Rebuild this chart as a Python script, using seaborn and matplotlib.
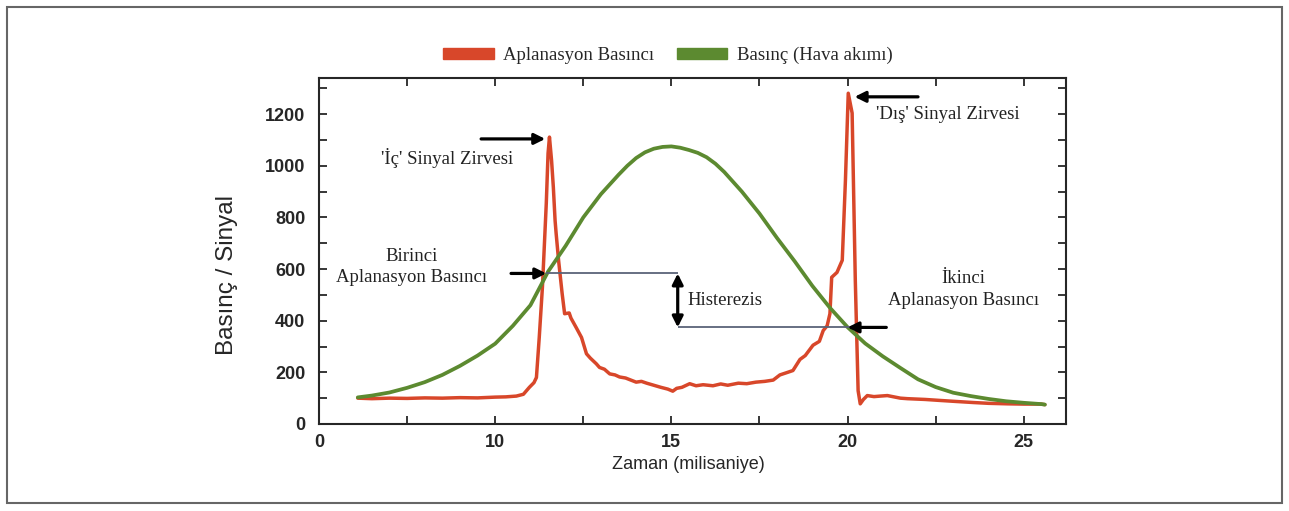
import matplotlib
matplotlib.use('Agg')
import matplotlib.pyplot as plt
from matplotlib.patches import Patch, Rectangle
from matplotlib.ticker import FixedLocator, MultipleLocator
import seaborn as sns
import pandas as pd

# applanation signal (red)
red_t = [6.1, 6.5, 7.0, 7.5, 8.0, 8.5, 9.0, 9.5, 10.0, 10.3, 10.6, 10.8, 10.97, 11.1, 11.17,
         11.25, 11.34, 11.45, 11.5, 11.54, 11.6, 11.65, 11.7, 11.73, 11.8, 11.9, 11.97, 12.1,
         12.15, 12.3, 12.45, 12.59, 12.7, 12.87, 12.96, 13.1, 13.25, 13.4, 13.53, 13.7, 13.85,
         14.0, 14.15, 14.3, 14.5, 14.7, 14.9, 15.04, 15.15, 15.3, 15.52, 15.7, 15.9, 16.18,
         16.4, 16.6, 16.9, 17.14, 17.4, 17.65, 17.89, 18.08, 18.3, 18.45, 18.65, 18.8, 19.02,
         19.2, 19.31, 19.42, 19.5, 19.55, 19.7, 19.85, 19.94, 20.02, 20.13, 20.22, 20.3, 20.36,
         20.45, 20.56, 20.75, 20.93, 21.13, 21.5, 21.7, 22.2, 22.64, 23.1, 23.58, 24.0, 24.55,
         25.0, 25.49, 25.6]
red_v = [100, 98, 100, 99, 101, 100, 102, 101, 104, 105, 108, 115, 142, 160, 180,
         335, 529, 855, 1048, 1111, 1020, 917, 787, 737, 632, 505, 427, 430,
         410, 373, 335, 272, 255, 233, 219, 212, 194, 190, 182, 178, 170,
         162, 165, 158, 150, 142, 135, 127, 138, 142, 156, 148, 152, 148,
         155, 150, 158, 156, 162, 165, 170, 190, 200, 207, 250, 265, 305,
         320, 362, 380, 427, 568, 587, 634, 944, 1281, 1204, 556, 129, 78,
         95, 110, 106, 108, 110, 100, 98, 95, 91, 87, 83, 80, 78,
         77, 77, 75]

# air puff pressure (green)
green_t = [6.1, 6.5, 7.0, 7.5, 8.0, 8.5, 9.0, 9.5, 10.0, 10.5, 11.0, 11.5, 12.0, 12.5, 13.0,
           13.5, 13.75, 14.0, 14.25, 14.5, 14.75, 15.0, 15.25, 15.5, 15.75, 16.0, 16.25, 16.5,
           17.0, 17.5, 18.0, 18.5, 19.0, 19.5, 20.0, 20.5, 21.0, 21.5, 22.0, 22.5, 23.0, 23.5,
           24.0, 24.5, 25.0, 25.5, 25.6]
green_v = [103, 110, 122, 140, 162, 190, 225, 265, 311, 380, 460, 590, 690, 800, 890,
           965, 1000, 1030, 1052, 1066, 1073, 1075, 1070, 1061, 1050, 1033, 1008, 976,
           900, 815, 720, 630, 535, 450, 375, 312, 262, 217, 173, 143, 121, 108,
           97, 88, 82, 77, 75]

x_ticks = [5, 10, 15, 20, 25]
x_tick_labels = ['0', '10', '15', '20', '25']

first_applanation = 583
second_applanation = 374
inner_peak = 1104
outer_peak = 1267

red = '#d8472a'
green = '#5c8a30'
sans = 'Liberation Sans'
serif = 'Liberation Serif'

sns.set_style('ticks')
plt.rcParams['font.family'] = [sans, 'DejaVu Sans']

fig = plt.figure(figsize=(12.89, 5.11), dpi=100)
ax = fig.add_axes([0.2475, 0.1703, 0.5795, 0.6771])

red_df = pd.DataFrame({'t': red_t, 'v': red_v})
green_df = pd.DataFrame({'t': green_t, 'v': green_v})
sns.lineplot(data=red_df, x='t', y='v', ax=ax, color=red, lw=2.5, sort=False, zorder=3)
sns.lineplot(data=green_df, x='t', y='v', ax=ax, color=green, lw=2.7, sort=False, zorder=4)

ax.set_xlim(5, 26.2)
ax.set_ylim(0, 1340)
ax.xaxis.set_major_locator(FixedLocator(x_ticks))
ax.set_xticklabels(x_tick_labels)
ax.xaxis.set_minor_locator(MultipleLocator(2.5))
ax.yaxis.set_major_locator(MultipleLocator(200))
ax.yaxis.set_minor_locator(MultipleLocator(100))
ax.tick_params(which='both', direction='in', top=True, right=True, length=6, width=1.3,
               labelsize=13)
ax.tick_params(axis='y', pad=10)
ax.tick_params(axis='x', pad=7)
for lbl in ax.get_xticklabels() + ax.get_yticklabels():
    lbl.set_fontweight('bold')
for sp in ax.spines.values():
    sp.set_linewidth(1.5)
    sp.set_visible(True)

ax.set_xlabel('Zaman (milisaniye)', fontsize=13)
ax.set_ylabel('Basınç / Sinyal', fontsize=17.5)
ax.xaxis.set_label_coords(0.494, -0.093)
ax.yaxis.set_label_coords(-0.109, 0.43)

# hysteresis guide lines
line_col = '#5a6378'
ax.hlines(first_applanation, 11.45, 15.18, color=line_col, lw=1.3, zorder=5)
ax.hlines(second_applanation, 15.18, 20.28, color=line_col, lw=1.3, zorder=5)

arrow = dict(arrowstyle='-|>', color='black', lw=2.3, mutation_scale=16, shrinkA=0, shrinkB=0)
ax.annotate('', xy=(11.42, inner_peak), xytext=(9.6, inner_peak), arrowprops=arrow, zorder=6)
ax.annotate('', xy=(20.2, outer_peak), xytext=(22.0, outer_peak), arrowprops=arrow, zorder=6)
ax.annotate('', xy=(11.45, first_applanation), xytext=(10.45, first_applanation),
            arrowprops=arrow, zorder=6)
ax.annotate('', xy=(20.0, second_applanation), xytext=(21.1, second_applanation),
            arrowprops=arrow, zorder=6)
ax.annotate('', xy=(15.18, second_applanation), xytext=(15.18, first_applanation),
            arrowprops=dict(arrowstyle='<|-|>', color='black', lw=2.3, mutation_scale=16,
                            shrinkA=0, shrinkB=0), zorder=6)

txt = dict(family=serif, fontsize=13.5, ha='center', va='center', color='#222222')
ax.text(8.63, 1030, "'İç' Sinyal Zirvesi", **txt)
ax.text(22.84, 1197, "'Dış' Sinyal Zirvesi", **txt)
ax.text(7.64, 650, 'Birinci', **txt)
ax.text(7.64, 568, 'Aplanasyon Basıncı', **txt)
ax.text(23.3, 564, 'İkinci', **txt)
ax.text(23.3, 479, 'Aplanasyon Basıncı', **txt)
ax.text(15.47, 479, 'Histerezis', family=serif, fontsize=13.5, ha='left', va='center',
        color='#222222')

handles = [Patch(facecolor=red, edgecolor=red, label='Aplanasyon Basıncı'),
           Patch(facecolor=green, edgecolor=green, label='Basınç (Hava akımı)')]
fig.legend(handles=handles, loc='center', bbox_to_anchor=(0.518, 0.892), ncol=2,
           frameon=False, prop={'family': serif, 'size': 13.5}, handlelength=2.7,
           handleheight=0.55, handletextpad=0.5, columnspacing=1.2)

# page border of the scanned figure
fig.patches.append(Rectangle((0.0054, 0.0157), 0.9892, 0.9705, transform=fig.transFigure,
                             fill=False, edgecolor='#666666', lw=1.5))

fig.savefig('out.png', dpi=100)
